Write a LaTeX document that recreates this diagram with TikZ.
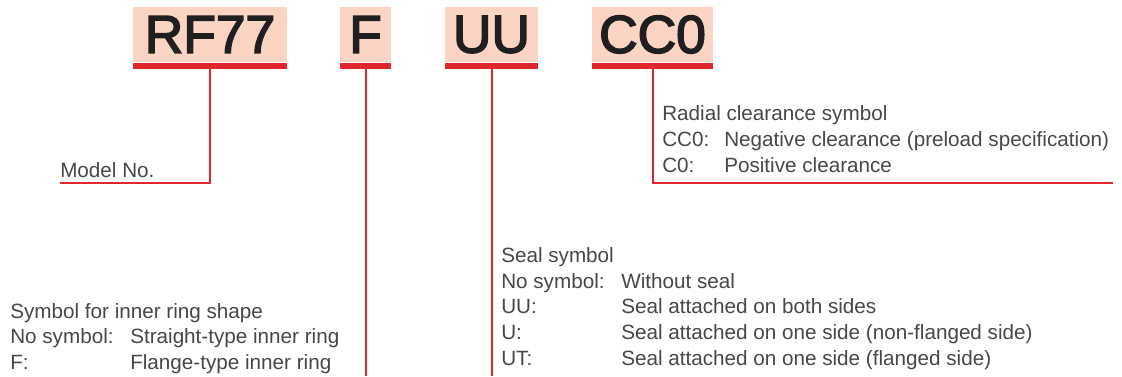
\documentclass[tikz,border=0pt]{standalone}
\usepackage{fontspec}
\setmainfont{Liberation Sans}
\newfontfamily\codefont[FakeBold=3]{Liberation Sans}
\definecolor{salmon}{HTML}{FBD4C3}
\definecolor{codered}{HTML}{E0252B}
\definecolor{txt}{HTML}{474747}
\begin{document}
\begin{tikzpicture}[x=0.75pt,y=-0.75pt,
  codebox/.style={fill=salmon,inner sep=0pt,minimum height=41.25pt,text=black!88,font=\codefont\fontsize{40}{40}\selectfont},
  codebar/.style={fill=codered,inner sep=0pt,minimum height=4.5pt},
  stem/.style={draw=codered,line width=1.5pt},
  lbl/.style={anchor=base west,inner sep=0pt,text=txt,font=\fontsize{15.5}{18}\selectfont}]
\useasboundingbox (0,0) rectangle (1122,376);
% code boxes
\node[codebox,minimum width=115.5pt] (rf) at (210,34.5) {RF77};
\node[codebox,minimum width=38.25pt] (f) at (365.5,34.5) {F};
\node[codebox,minimum width=69.75pt] (uu) at (491.5,34.5) {UU};
\node[codebox,minimum width=90.75pt] (cc) at (652.5,34.5) {CC0};
\node[codebar,minimum width=115.5pt,anchor=north] (rfbar) at (rf.south) {};
\node[codebar,minimum width=38.25pt,anchor=north] (fbar) at (f.south) {};
\node[codebar,minimum width=69.75pt,anchor=north] (uubar) at (uu.south) {};
\node[codebar,minimum width=90.75pt,anchor=north] (ccbar) at (cc.south) {};
% connector end points
\coordinate (mend) at (60,183);
\coordinate (fend) at (364,376);
\coordinate (uend) at (491,376);
\coordinate (cend) at (1113,183);
\draw[stem] (rfbar.south) |- (mend);
\draw[stem] (fbar.south) -- (fbar.south |- fend);
\draw[stem] (uubar.south) -- (uubar.south |- uend);
\draw[stem] (ccbar.south) |- (cend);
% labels
\node[lbl] (model) at (60,177) {Model No.};
\node[lbl] (c1) at (662,120) {Radial clearance symbol};
\node[lbl] (c2) at (662,146) {CC0:};
\node[lbl] (c2b) at (724,146) {Negative clearance (preload specification)};
\node[lbl] (c3) at (662,172) {C0:};
\node[lbl] (c3b) at (724,172) {Positive clearance};
\node[lbl] (s1) at (501,262) {Seal symbol};
\node[lbl] (s2) at (501,288) {No symbol:};
\node[lbl] (s2b) at (621,288) {Without seal};
\node[lbl] (s3) at (501,313) {UU:};
\node[lbl] (s3b) at (621,313) {Seal attached on both sides};
\node[lbl] (s4) at (501,339) {U:};
\node[lbl] (s4b) at (621,339) {Seal attached on one side (non-flanged side)};
\node[lbl] (s5) at (501,365) {UT:};
\node[lbl] (s5b) at (621,365) {Seal attached on one side (flanged side)};
\node[lbl] (i1) at (10,318) {Symbol for inner ring shape};
\node[lbl] (i2) at (10,343) {No symbol:};
\node[lbl] (i2b) at (130,343) {Straight-type inner ring};
\node[lbl] (i3) at (10,369) {F:};
\node[lbl] (i3b) at (130,369) {Flange-type inner ring};
\end{tikzpicture}
\end{document}
